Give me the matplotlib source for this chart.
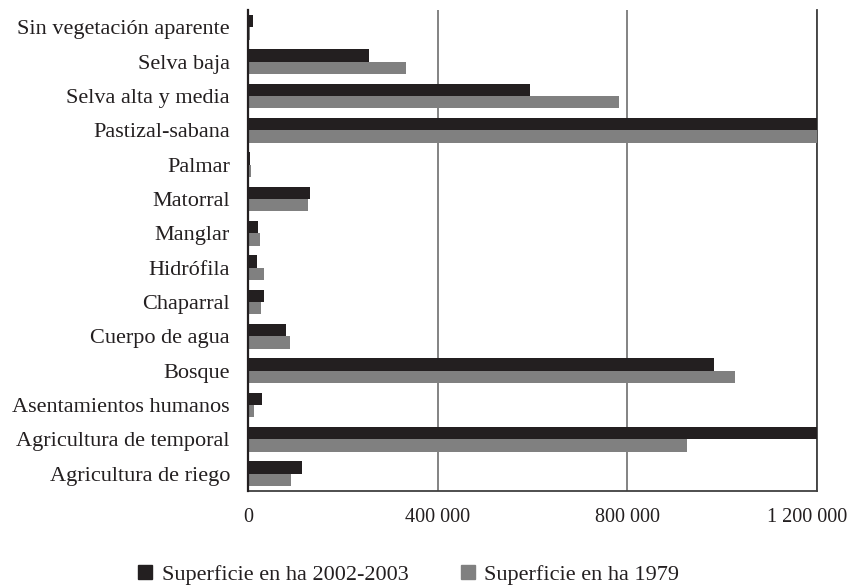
import numpy as np
import matplotlib
matplotlib.use("Agg")
import matplotlib.pyplot as plt
import matplotlib.transforms as mtransforms
from matplotlib.ticker import FuncFormatter
from matplotlib.lines import Line2D

# land-cover categories, top to bottom as in the chart
categories = [
    "Sin vegetación aparente",
    "Selva baja",
    "Selva alta y media",
    "Pastizal-sabana",
    "Palmar",
    "Matorral",
    "Manglar",
    "Hidrófila",
    "Chaparral",
    "Cuerpo de agua",
    "Bosque",
    "Asentamientos humanos",
    "Agricultura de temporal",
    "Agricultura de riego",
]
# surface in ha (bars past 1 200 000 are clipped in the original)
sup_2002 = [10000, 255000, 595000, 1250000, 4000, 131000, 21000,
            20000, 34000, 80000, 983000, 30000, 1250000, 114000]
sup_1979 = [4000, 333000, 783000, 1250000, 5500, 127000, 25000,
            34000, 28000, 89000, 1027000, 13000, 926000, 91000]
x_ticks = [0, 400000, 800000, 1200000]

DARK = "#231f20"
GREY = "#808080"
plt.rcParams['font.family'] = ['Liberation Serif', 'DejaVu Serif']

fig = plt.figure(figsize=(8.49, 5.85), dpi=100)
ax = fig.add_axes([248/849, 1-491/585, (817-248)/849, (491-10)/585])

y = np.arange(len(categories))
h = 0.36
ax.barh(y - h/2, sup_2002, height=h, color=DARK, zorder=3)
ax.barh(y + h/2, sup_1979, height=h, color=GREY, zorder=3)

ax.set_xlim(0, 1200000)
ax.set_ylim(len(categories) - 0.5, -0.5)
ax.set_yticks(y)
ax.set_yticklabels(categories)
ax.set_xticks(x_ticks)
ax.xaxis.set_major_formatter(FuncFormatter(lambda v, p: f"{int(v):,}".replace(",", " ")))
ax.tick_params(axis='y', length=0, pad=13, labelsize=16, labelcolor="#231f20")
ax.tick_params(axis='x', length=0, pad=12, labelsize=14.5, labelcolor="#231f20")

# last x label sits a little left of its tick, like the original
last = ax.get_xticklabels()[-1]
last.set_transform(last.get_transform() +
                   mtransforms.ScaledTranslation(-10/100, 0, fig.dpi_scale_trans))

ax.grid(axis='x', color="#7a7a7a", lw=1.3, zorder=1)
ax.spines['top'].set_visible(False)
ax.spines['left'].set_color(DARK)
ax.spines['left'].set_linewidth(1.6)
ax.spines['left'].set_zorder(4)
ax.spines['bottom'].set_color("#404040")
ax.spines['bottom'].set_linewidth(1.3)
ax.spines['right'].set_color("#404040")
ax.spines['right'].set_linewidth(1.3)

handles = [Line2D([], [], ls='none', marker='s', markersize=9.5, color=DARK),
           Line2D([], [], ls='none', marker='s', markersize=9.5, color=GREY)]
fig.legend(handles, ["Superficie en ha 2002-2003", "Superficie en ha 1979"],
           loc='center', bbox_to_anchor=(0.481, 1-575/585), ncol=2,
           frameon=False, fontsize=16, handlelength=0.7, handletextpad=0.4,
           columnspacing=2.3, labelcolor="#231f20")

fig.savefig("out.png", dpi=100)
